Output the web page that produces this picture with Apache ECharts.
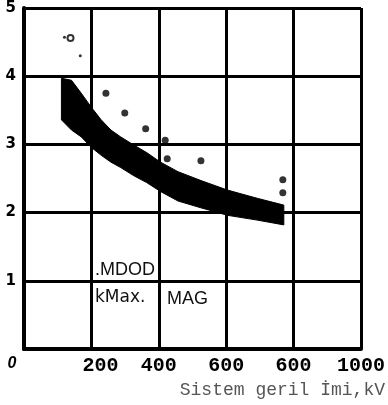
<!DOCTYPE html>
<html>
<head>
<meta charset="utf-8">
<script src="https://cdn.jsdelivr.net/npm/echarts@6/dist/echarts.min.js"></script>
<style>
  html, body { margin: 0; padding: 0; background: #fff; }
  #chart { width: 388px; height: 405px; }
</style>
</head>
<body>
<div id="chart"></div>
<script>
// band (system voltage kV -> upper / lower ratio)
const bandVoltage = [111, 141, 170, 199, 229, 258, 287, 326, 364, 405, 457, 525, 604, 692, 771];
const bandUpper = [3.97, 3.94, 3.75, 3.55, 3.36, 3.21, 3.11, 2.99, 2.88, 2.74, 2.60, 2.47, 2.33, 2.21, 2.11];
const bandLower = [3.36, 3.21, 3.11, 2.96, 2.84, 2.74, 2.66, 2.54, 2.44, 2.31, 2.17, 2.07, 1.96, 1.89, 1.82];

// measured points
const dotVoltage = [243, 299, 361, 419, 425, 525, 768, 768];
const dotRatio = [3.75, 3.46, 3.23, 3.06, 2.79, 2.76, 2.48, 2.29];
const smallDotVoltage = [120, 167];
const smallDotRatio = [4.57, 4.30];
const openVoltage = [138];
const openRatio = [4.56];

const xTickLabels = ['0', '200', '400', '600', '600', '1000'];
const yTickLabels = ['', '1', '2', '3', '4', '5'];

const chart = echarts.init(document.getElementById('chart'), null, { renderer: 'canvas' });

const zip = (xs, ys) => xs.map((x, i) => [x, ys[i]]);

const option = {
  animation: false,
  backgroundColor: '#fff',
  grid: { left: 24, right: 23, top: 8, bottom: 56 },
  xAxis: {
    type: 'value',
    min: 0,
    max: 1000,
    interval: 200,
    axisLine: { show: true, onZero: false, lineStyle: { color: '#000', width: 4 } },
    axisTick: { show: false },
    splitLine: { show: true, lineStyle: { color: '#000', width: 3 } },
    axisLabel: {
      margin: 7,
      formatter: (v) => {
        const t = xTickLabels[Math.round(v / 200)];
        if (v === 0) return '{z|' + t + '}';
        if (v === 200) return '{s|' + t + '}';
        return '{n|' + t + '}';
      },
      rich: {
        n: { fontFamily: 'Liberation Mono', fontWeight: 'bold', fontSize: 20, color: '#000' },
        s: { fontFamily: 'Liberation Mono', fontWeight: 'bold', fontSize: 20, color: '#000', padding: [0, 0, 0, 18] },
        z: { fontFamily: 'Liberation Sans', fontWeight: 'bold', fontStyle: 'italic', fontSize: 16, color: '#000', padding: [0, 24, 0, 0] }
      }
    }
  },
  yAxis: {
    type: 'value',
    min: 0,
    max: 5,
    interval: 1,
    axisLine: { show: true, lineStyle: { color: '#000', width: 4 } },
    axisTick: { show: false },
    splitLine: { show: true, lineStyle: { color: '#000', width: 3 } },
    axisLabel: {
      margin: 8,
      color: '#000',
      fontFamily: 'DejaVu Sans',
      fontWeight: 'bold',
      fontSize: 15,
      formatter: (v) => yTickLabels[Math.round(v)]
    }
  },
  graphic: [
    { type: 'text', right: 3, top: 381, style: { text: 'Sistem geril İmi,kV', fontFamily: 'Liberation Mono', fontSize: 18, fill: '#555' } },
    { type: 'text', left: 95, top: 261, style: { text: '.MDOD', fontFamily: 'Liberation Sans', fontSize: 18, fill: '#111' } },
    { type: 'text', left: 95, top: 289, style: { text: 'kMax.', fontFamily: 'DejaVu Sans', fontSize: 17, fill: '#111' } },
    { type: 'text', left: 167, top: 290, style: { text: 'MAG', fontFamily: 'Liberation Sans', fontSize: 18, fill: '#111' } }
  ],
  series: [
    {
      type: 'custom',
      data: [[0]],
      silent: true,
      z: 3,
      renderItem: (params, api) => {
        const top = bandVoltage.map((x, i) => api.coord([x, bandUpper[i]]));
        const bottom = bandVoltage.map((x, i) => api.coord([x, bandLower[i]])).reverse();
        return {
          type: 'polygon',
          shape: { points: top.concat(bottom) },
          style: { fill: '#000', stroke: '#000', lineWidth: 1 }
        };
      }
    },
    {
      type: 'scatter',
      data: zip(dotVoltage, dotRatio),
      symbol: 'circle',
      symbolSize: 7,
      itemStyle: { color: '#000' },
      z: 4
    },
    {
      type: 'scatter',
      data: zip(smallDotVoltage, smallDotRatio),
      symbol: 'circle',
      symbolSize: 3,
      itemStyle: { color: '#000' },
      z: 4
    },
    {
      type: 'scatter',
      data: zip(openVoltage, openRatio),
      symbol: 'emptyCircle',
      symbolSize: 6,
      itemStyle: { color: '#000', borderWidth: 1.2 },
      z: 4
    }
  ]
};

chart.setOption(option);
</script>
</body>
</html>
